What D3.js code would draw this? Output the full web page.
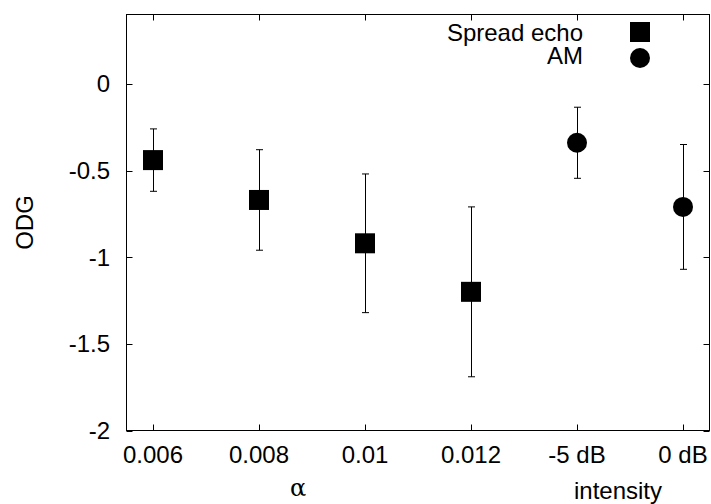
<!DOCTYPE html>
<html>
<head>
<meta charset="utf-8">
<script src="https://cdn.jsdelivr.net/npm/d3@7"></script>
<style>
  body { margin: 0; background: #fff; }
  text { font-family: "Liberation Sans", Arial, sans-serif; font-size: 24px; fill: #000; }
</style>
</head>
<body>
<div id="chart"></div>
<script>
// categories along x (alpha values, then intensity)
var categories = ["0.006", "0.008", "0.01", "0.012", "-5 dB", "0 dB"];

// Spread echo: mean ODG and error (half width)
var echoCats = ["0.006", "0.008", "0.01", "0.012"];
var echoMeans = [-0.44, -0.67, -0.92, -1.20];
var echoErrs = [0.18, 0.29, 0.40, 0.49];

// AM
var amCats = ["-5 dB", "0 dB"];
var amMeans = [-0.34, -0.71];
var amErrs = [0.205, 0.36];

var yTicks = [0, -0.5, -1, -1.5, -2];

var width = 711, height = 504;
var mLeft = 126.5, mRight = 709.5, mTop = 14.5, mBottom = 430.5;

var svg = d3.select("#chart").append("svg")
    .attr("width", width).attr("height", height);

var x = d3.scalePoint().domain(categories).range([mLeft, mRight]).padding(0.25);
var y = d3.scaleLinear().domain([-2, 0.4]).range([mBottom, mTop]);

// frame
svg.append("rect")
    .attr("x", mLeft).attr("y", mTop)
    .attr("width", mRight - mLeft).attr("height", mBottom - mTop)
    .attr("fill", "none").attr("stroke", "#000").attr("stroke-width", 1);

// x ticks (bottom + mirrored top)
var tickLen = 6;
categories.forEach(function(c) {
    var px = Math.round(x(c)) + 0.5;
    svg.append("line").attr("x1", px).attr("x2", px)
        .attr("y1", mBottom).attr("y2", mBottom - tickLen).attr("stroke", "#000");
    svg.append("line").attr("x1", px).attr("x2", px)
        .attr("y1", mTop).attr("y2", mTop + tickLen).attr("stroke", "#000");
    svg.append("text").attr("x", x(c)).attr("y", 463)
        .attr("text-anchor", "middle").text(c);
});

// y ticks (left + mirrored right)
yTicks.forEach(function(t) {
    var py = Math.round(y(t)) + 0.5;
    svg.append("line").attr("x1", mLeft).attr("x2", mLeft + tickLen)
        .attr("y1", py).attr("y2", py).attr("stroke", "#000");
    svg.append("line").attr("x1", mRight).attr("x2", mRight - tickLen)
        .attr("y1", py).attr("y2", py).attr("stroke", "#000");
    svg.append("text").attr("x", 110).attr("y", y(t))
        .attr("dy", "0.36em")
        .attr("text-anchor", "end").text(t);
});

// axis labels
svg.append("text").attr("transform", "translate(33," + ((mTop + mBottom) / 2) + ") rotate(-90)")
    .attr("text-anchor", "middle").text("ODG");
svg.append("text").attr("x", 298).attr("y", 496).attr("text-anchor", "middle")
    .style("font-family", "'DejaVu Serif', serif").text("\u03b1");
svg.append("text").attr("x", 618).attr("y", 499).attr("text-anchor", "middle").text("intensity");

function errorBars(cats, means, errs) {
    var capW = 3.5;
    cats.forEach(function(c, i) {
        var px = Math.round(x(c)) + 0.5;
        var y1 = y(means[i] + errs[i]), y2 = y(means[i] - errs[i]);
        svg.append("line").attr("x1", px).attr("x2", px)
            .attr("y1", y1).attr("y2", y2).attr("stroke", "#000");
        [y1, y2].forEach(function(yy) {
            svg.append("line").attr("x1", px - capW).attr("x2", px + capW)
                .attr("y1", yy).attr("y2", yy).attr("stroke", "#000");
        });
    });
}

errorBars(echoCats, echoMeans, echoErrs);
errorBars(amCats, amMeans, amErrs);

var ms = 20;
svg.selectAll("rect.echo").data(echoCats).enter().append("rect")
    .attr("class", "echo")
    .attr("x", function(d) { return x(d) - ms / 2; })
    .attr("y", function(d, i) { return y(echoMeans[i]) - ms / 2; })
    .attr("width", ms).attr("height", ms).attr("fill", "#000");

svg.selectAll("circle.am").data(amCats).enter().append("circle")
    .attr("class", "am")
    .attr("cx", function(d) { return x(d); })
    .attr("cy", function(d, i) { return y(amMeans[i]); })
    .attr("r", ms / 2).attr("fill", "#000");

// legend
svg.append("text").attr("x", 583).attr("y", 41).attr("text-anchor", "end").text("Spread echo");
svg.append("rect").attr("x", 640 - ms / 2).attr("y", 32 - ms / 2)
    .attr("width", ms).attr("height", ms).attr("fill", "#000");
svg.append("text").attr("x", 583).attr("y", 64).attr("text-anchor", "end").text("AM");
svg.append("circle").attr("cx", 640).attr("cy", 58).attr("r", ms / 2).attr("fill", "#000");
</script>
</body>
</html>
